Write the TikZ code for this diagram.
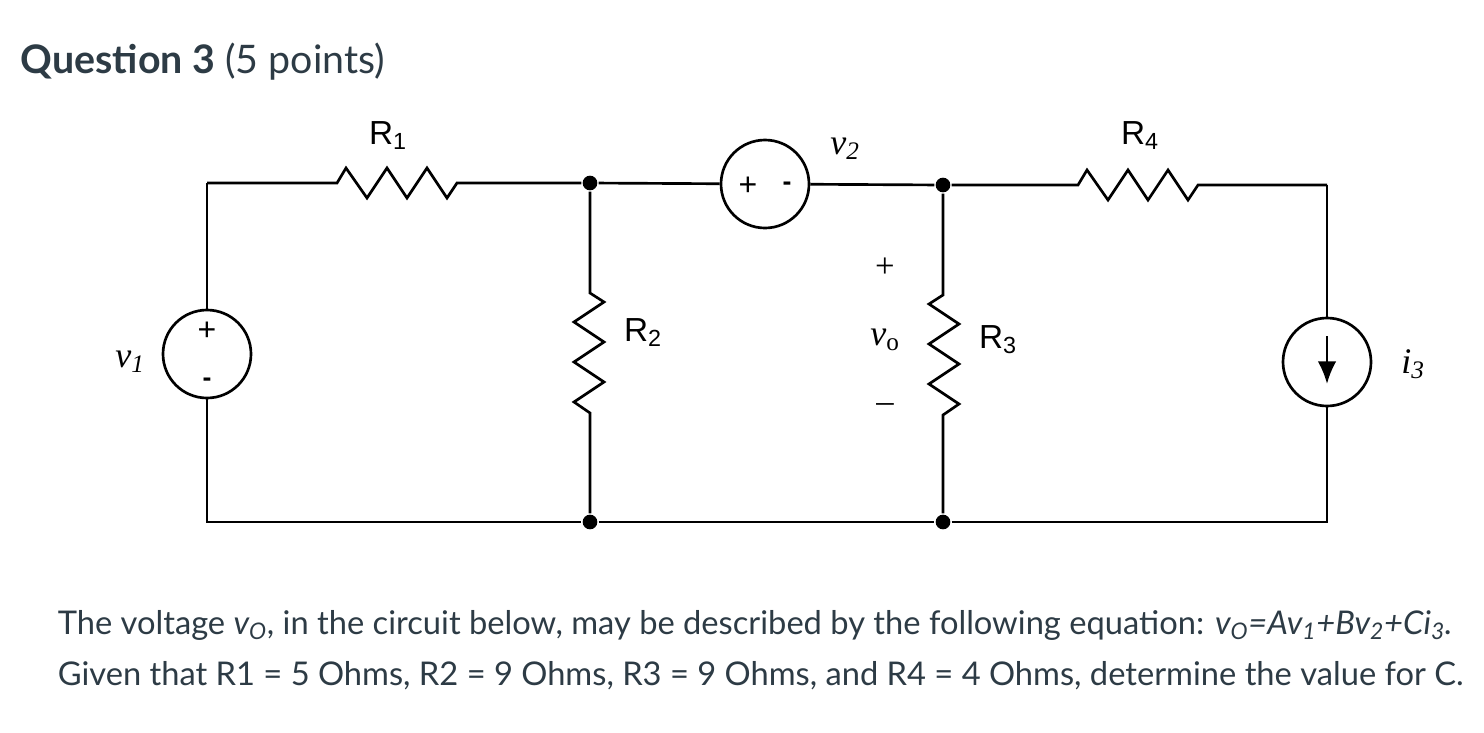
\documentclass[tikz,border=0pt]{standalone}
\usepackage{fontspec}
\usetikzlibrary{arrows.meta}
\setmainfont{Lato}
\newfontfamily\arialf{Liberation Sans}
\newfontfamily\timesf{Liberation Serif}
\definecolor{txtgray}{HTML}{2D3B45}
\begin{document}
\begin{tikzpicture}[x=0.75pt,y=-0.75pt,line width=2pt,
  dot/.style={circle,fill=black,inner sep=0pt,minimum size=11pt},
  src/.style={circle,draw,line width=2pt,minimum size=66pt,inner sep=0pt},
  rl/.style={font=\arialf\fontsize{25}{25}\selectfont},
  vl/.style={font=\timesf\itshape\fontsize{27}{27}\selectfont},
  txt/.style={font=\fontsize{24.5}{28}\selectfont,anchor=west,text=txtgray}]
\useasboundingbox (0,0) rectangle (1484,732);
\node[anchor=west,font=\fontsize{29.5}{32}\selectfont,text=txtgray] (title) at (15,62) {\textbf{Question 3} (5 points)};
% nodes
\coordinate (tl) at (207,183);
\coordinate (bl) at (207,522);
\node[dot] (n1) at (590,183) {};
\node[dot] (n2) at (590,522) {};
\node[dot] (n3) at (943,185) {};
\node[dot] (n4) at (943,522) {};
\coordinate (tr) at (1327,185);
\coordinate (br) at (1327,522);
\node[src] (V1) at (207,354) {};
\node[src] (V2) at (765,184) {};
\node[src] (I3) at (1327,362) {};
% R1
\coordinate (r1a) at (337,183); \coordinate (r1b) at (457,183);
\draw (tl) -- (r1a) -- (346,168) -- (367,198) -- (387,168) -- (407,198) -- (427,168) -- (447,198) -- (r1b) -- (n1);
% R4
\coordinate (r4a) at (1078,185); \coordinate (r4b) at (1198,185);
\draw (n3) -- (r4a) -- (1087,170) -- (1108,200) -- (1128,170) -- (1148,200) -- (1168,170) -- (1188,200) -- (r4b) -- (tr);
% R2
\coordinate (r2a) at (590,293); \coordinate (r2b) at (590,413);
\draw (n1) -- (r2a) -- (604,302) -- (574,322) -- (604,342) -- (574,362) -- (604,382) -- (574,402) -- (r2b) -- (n2);
% R3
\coordinate (r3a) at (943,295); \coordinate (r3b) at (943,415);
\draw (n3) -- (r3a) -- (929,304) -- (959,324) -- (929,344) -- (959,364) -- (929,384) -- (959,404) -- (r3b) -- (n4);
% wires
\draw (n1) -- (V2) -- (n3);
\draw (tl) -- (V1) -- (bl) -- (n2) -- (n4) -- (br) -- (I3) -- (tr);
% source marks
\node[font=\arialf\fontsize{24}{24}\selectfont] (p1) at (207,331) {+};
\node[font=\arialf\bfseries\fontsize{20}{20}\selectfont] (m1) at (207,382) {-};
\node[font=\arialf\fontsize{24}{24}\selectfont] (p2) at (748,186) {+};
\node[font=\arialf\bfseries\fontsize{20}{20}\selectfont] (m2) at (787,186) {-};
\coordinate (aTop) at (1327,336);
\coordinate (aBot) at (1327,384);
\draw[line width=2pt,-{Latex[length=17pt,width=14pt]}] (aTop) -- (aBot);
% labels
\node[rl] (lR1) at (388,136) {R\textsubscript{1}};
\node[rl] (lR2) at (643,333) {R\textsubscript{2}};
\node[rl] (lR3) at (998,340) {R\textsubscript{3}};
\node[rl] (lR4) at (1140,136) {R\textsubscript{4}};
\node[vl] (lv1) at (130,362) {v\textsubscript{1}};
\node[vl] (lv2) at (845,149) {v\textsubscript{2}};
\node[vl] (li3) at (1413,364) {i\textsubscript{3}};
\node[vl] (lvo) at (885,340) {v\textsubscript{\upshape o}};
\node[font=\timesf\fontsize{26}{26}\selectfont] (pp) at (885,268) {+};
\node[font=\timesf\fontsize{26}{26}\selectfont] (mm) at (885,408) {\textendash};
% text
\node[txt] (t1) at (52,625) {The voltage \textit{v\textsubscript{O}}, in the circuit below, may be described by the following equation: \textit{v\textsubscript{O}=Av\textsubscript{1}+Bv\textsubscript{2}+Ci\textsubscript{3}.}};
\node[txt] (t2) at (52,676) {Given that R1 = 5 Ohms, R2 = 9 Ohms, R3 = 9 Ohms, and R4 = 4 Ohms, determine the value for C.};
\end{tikzpicture}
\end{document}
